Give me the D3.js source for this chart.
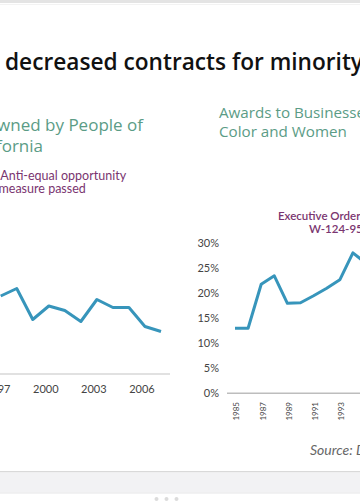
<!DOCTYPE html>
<html><head><meta charset="utf-8">
<script src="https://cdn.jsdelivr.net/npm/d3@7"></script>
<style>html,body{margin:0;padding:0;background:#fff;overflow:hidden}</style>
</head><body>
<svg id="c" width="360" height="504"></svg>
<script>
// ---- data ----
const leftYears = [1997,1998,1999,2000,2001,2002,2003,2004,2005,2006,2007];
const leftValues = [15.6,17.1,10.9,13.6,12.7,10.5,14.9,13.3,13.3,9.5,8.5];
const leftTickYears = [1997,2000,2003,2006];

const rightYears = [1985,1986,1987,1988,1989,1990,1991,1992,1993,1994,1995];
const rightValues = [13,13,21.8,23.5,18,18.1,19.5,21,22.7,28.1,26];
const rightTickYears = [1985,1987,1989,1991,1993,1995];
const rightYTicks = [0,5,10,15,20,25,30];

const svg = d3.select("#c");
const W = 360, H = 504;
svg.append("rect").attr("width",W).attr("height",H).attr("fill","#fff");

// font size so that `sample` measures `target` px in the given font
function fitSize(family, weight, style, sample, target){
  const t = svg.append("text").attr("font-family",family).attr("font-weight",weight)
    .attr("font-style",style).attr("font-size",100).text(sample);
  const w = t.node().getComputedTextLength(); t.remove();
  return 100*target/w;
}

// top bar
svg.append("rect").attr("x",0).attr("y",0).attr("width",W).attr("height",3).attr("fill","#e4e4e4");
svg.append("rect").attr("x",0).attr("y",4).attr("width",W).attr("height",1).attr("fill","#f3f3f3");

// title
const tSize = fitSize("Open Sans",600,"normal","decreased contracts for minorit",346);
svg.append("text").attr("x",5).attr("y",70)
  .attr("font-family","Open Sans").attr("font-weight",600).attr("font-size",tSize)
  .attr("fill","#111").text("decreased contracts for minority-owned businesses");

const green = "#5b9c86", purple = "#7a3570", lineCol = "#3795bb";

// left subtitle
const lsSize = fitSize("Open Sans",400,"normal","wned by People of",146);
const lsub = svg.append("g").attr("font-family","Open Sans").attr("font-size",lsSize).attr("fill",green).attr("text-anchor","end");
lsub.append("text").attr("x",143).attr("y",131).text("Contracts to Businesses Owned by People of");
lsub.append("text").attr("x",43).attr("y",152).text("Color and Women in California");

// left annotation
const laSize = fitSize("Lato",400,"normal","Anti-equal opportunity",126);
const lann = svg.append("g").attr("font-family","Lato").attr("font-size",laSize).attr("fill",purple);
lann.append("text").attr("x",0.3).attr("y",180).text("Anti-equal opportunity");
lann.append("text").attr("x",-1.5).attr("y",193).text("measure passed");

// right subtitle
const rsSize = fitSize("Open Sans",400,"normal","Color and Women",128);
const rsub = svg.append("g").attr("font-family","Open Sans").attr("font-size",rsSize).attr("fill",green);
rsub.append("text").attr("x",219).attr("y",118).text("Awards to Businesses Owned by People of");
rsub.append("text").attr("x",219).attr("y",137).text("Color and Women");

// right annotation
const rann = svg.append("g").attr("font-family","Lato").attr("font-weight",600).attr("font-size",11.5).attr("fill",purple);
rann.append("text").attr("x",278).attr("y",220).text("Executive Order");
rann.append("text").attr("x",309).attr("y",233).text("W-124-95 signed");

// ---- left chart ----
const xL = d3.scaleLinear().domain([1997,2007]).range([0.7,161]);
const yL = d3.scaleLinear().domain([0,20]).range([374,274]);
svg.append("line").attr("x1",-5).attr("x2",170).attr("y1",yL(0)).attr("y2",yL(0))
  .attr("stroke","#c4c4c4").attr("stroke-width",1.2);
svg.append("g").selectAll("text").data(leftTickYears).join("text")
  .attr("x",d=>xL(d)-3).attr("y",393).attr("text-anchor","middle")
  .attr("font-family","Lato").attr("font-size",11).attr("fill","#444").text(d=>d);
const lineL = d3.line().x((d,i)=>xL(leftYears[i])).y(d=>yL(d));
svg.append("path").datum(leftValues).attr("d",lineL).attr("fill","none")
  .attr("stroke",lineCol).attr("stroke-width",3).attr("stroke-linejoin","round");

// ---- right chart ----
const xR = d3.scaleLinear().domain([1985,1995]).range([235,366]);
const yR = d3.scaleLinear().domain([0,30]).range([393.3,243.3]);
svg.append("line").attr("x1",227).attr("x2",W).attr("y1",yR(0)).attr("y2",yR(0))
  .attr("stroke","#bdbdbd").attr("stroke-width",1.5);
svg.append("g").selectAll("text").data(rightYTicks).join("text")
  .attr("x",219).attr("y",d=>yR(d)).attr("dy","0.35em").attr("text-anchor","end")
  .attr("font-family","Lato").attr("font-size",11).attr("fill","#444").text(d=>d+"%");
svg.append("g").selectAll("text").data(rightTickYears).join("text")
  .attr("transform",d=>`translate(${xR(d)+1.5},402) rotate(-90)`)
  .attr("dy","0.35em").attr("text-anchor","end")
  .attr("font-family","Lato").attr("font-size",8).attr("fill","#444").text(d=>d);
const lineR = d3.line().x((d,i)=>xR(rightYears[i])).y(d=>yR(d));
svg.append("path").datum(rightValues).attr("d",lineR).attr("fill","none")
  .attr("stroke",lineCol).attr("stroke-width",3).attr("stroke-linejoin","round");

// source
svg.append("text").attr("x",310).attr("y",455).attr("font-family","Lato").attr("font-style","italic")
  .attr("font-size",14).attr("fill","#666").text("Source: Discrimination Research Center");

// bottom frame
svg.append("rect").attr("x",0).attr("y",471).attr("width",W).attr("height",1.5).attr("fill","#d9d9d9");
svg.append("rect").attr("x",0).attr("y",472.5).attr("width",W).attr("height",20).attr("fill","#f2f2f4");
svg.append("rect").attr("x",0).attr("y",492.5).attr("width",W).attr("height",1).attr("fill","#e6e6e8");
svg.append("g").selectAll("circle").data([0,1,2]).join("circle")
  .attr("cx",d=>156.5+d*10).attr("cy",499).attr("r",2).attr("fill","#dcdcdc");
</script>
</body></html>
